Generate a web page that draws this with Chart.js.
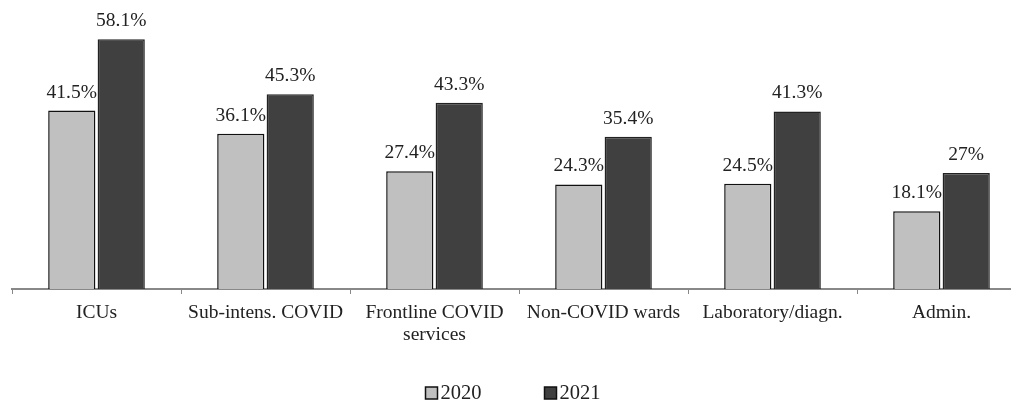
<!DOCTYPE html>
<html>
<head>
<meta charset="utf-8">
<script src="https://cdn.jsdelivr.net/npm/chart.js@4/dist/chart.umd.min.js"></script>
<style>
  html, body { margin: 0; padding: 0; background: #fff; overflow: hidden; }
  /* the original figure is a bit wider than the window, its right edge is cut */
  #wrap { width: 1026px; height: 405px; position: relative; }
</style>
</head>
<body>
<div id="wrap"><canvas id="bars"></canvas></div>
<script>
const categories = ["ICUs", "Sub-intens. COVID", ["Frontline COVID", "services"], "Non-COVID wards", "Laboratory/diagn.", "Admin."];
const seriesNames = ["2020", "2021"];
const values2020 = [41.5, 36.1, 27.4, 24.3, 24.5, 18.1];
const values2021 = [58.1, 45.3, 43.3, 35.4, 41.3, 27];

const serif = "'Liberation Serif', 'Times New Roman', serif";

// percentages above each bar
const valueLabels = {
  id: "valueLabels",
  afterDatasetsDraw(chart) {
    const ctx = chart.ctx;
    ctx.save();
    ctx.font = "19.5px " + serif;
    ctx.fillStyle = "#222";
    ctx.textAlign = "center";
    ctx.textBaseline = "alphabetic";
    chart.data.datasets.forEach((ds, i) => {
      chart.getDatasetMeta(i).data.forEach((bar, j) => {
        ctx.fillText(ds.data[j] + "%", bar.x, bar.y - 13);
      });
    });
    ctx.restore();
  }
};

// legend like the original: small boxes, text right next to them
const boxLegend = {
  id: "boxLegend",
  afterDraw(chart) {
    const ctx = chart.ctx;
    const box = 12, gap = 3, itemGap = 63, cy = 393;
    ctx.save();
    ctx.font = "20.5px " + serif;
    ctx.textBaseline = "middle";
    const items = chart.data.datasets.map(ds => ({ ds, w: box + gap + ctx.measureText(ds.label).width }));
    const total = items.reduce((s, it) => s + it.w, 0) + itemGap * (items.length - 1);
    let x = chart.width / 2 - total / 2;
    items.forEach(it => {
      ctx.fillStyle = it.ds.backgroundColor;
      ctx.fillRect(x, cy - box / 2, box, box);
      ctx.strokeStyle = "#111";
      ctx.lineWidth = 1.5;
      ctx.strokeRect(x, cy - box / 2, box, box);
      ctx.fillStyle = "#222";
      ctx.fillText(it.ds.label, x + box + gap, cy + 1);
      x += it.w + itemGap;
    });
    ctx.restore();
  }
};

drawBars();
function drawBars() {
  const data = {
    labels: categories,
    datasets: [{
      label: seriesNames[0],
      data: values2020,
      backgroundColor: "#c0c0c0",
      borderColor: "#111",
      borderWidth: 1.5
    }, {
      label: seriesNames[1],
      data: values2021,
      backgroundColor: "#404040",
      borderColor: "#222",
      borderWidth: 1.5
    }]
  };

  const config = {
    type: "bar",
    data: data,
    options: {
      responsive: true,
      maintainAspectRatio: false,
      animation: false,
      categoryPercentage: 0.585,
      barPercentage: 0.955,
      layout: { padding: { left: 12, right: 0, top: 0, bottom: 0 } },
      plugins: {
        tooltip: { enabled: false },
        legend: { display: false }
      },
      scales: {
        x: {
          afterFit(scale) { scale.height = 116; },
          grid: {
            display: true,
            drawOnChartArea: false,
            drawTicks: true,
            tickLength: 5,
            color: "#888",
            offset: true
          },
          border: { display: true, color: "#888", width: 2 },
          ticks: {
            font: { family: serif, size: 19.5, lineHeight: 1.17 },
            color: "#222",
            maxRotation: 0,
            autoSkip: false,
            padding: 7
          }
        },
        y: {
          display: false,
          min: 0,
          max: 67.2
        }
      }
    },
    plugins: [valueLabels, boxLegend]
  };

  new Chart(document.getElementById("bars"), config);
}
</script>
</body>
</html>
